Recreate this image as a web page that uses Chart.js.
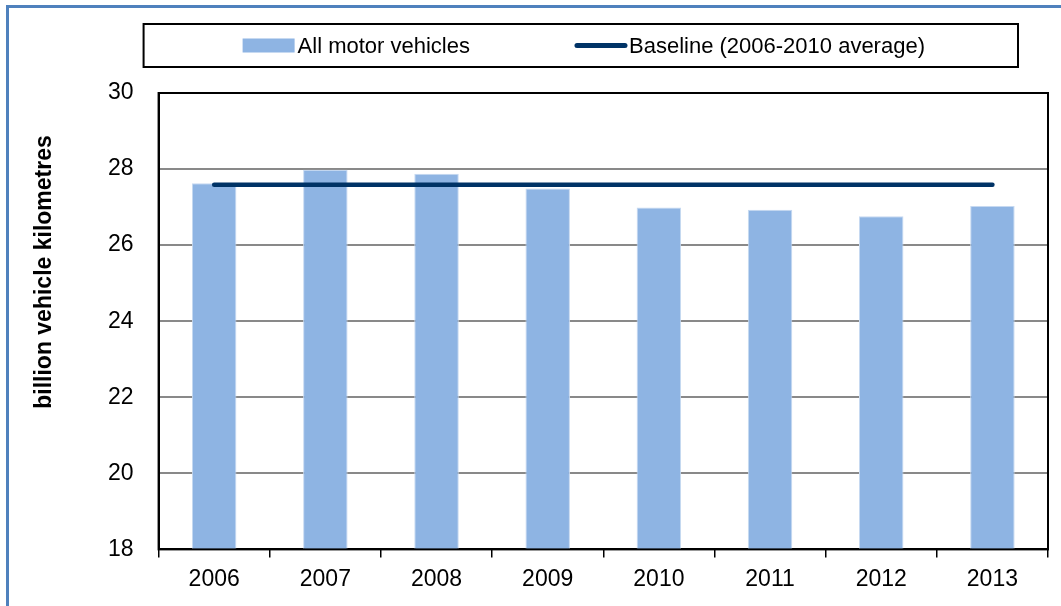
<!DOCTYPE html>
<html>
<head>
<meta charset="utf-8">
<title>Vehicle kilometres</title>
<script src="https://cdn.jsdelivr.net/npm/chart.js@4/dist/chart.umd.min.js"></script>
<style>
  body { margin: 0; background: #fff; }
  #wrap { position: relative; width: 1061px; height: 606px; overflow: hidden; }
  #frame {
    position: absolute; left: 6px; top: 5px; width: 1200px; height: 800px;
    border-left: 3px solid #4f81bd; border-top: 3px solid #4f81bd;
  }
  canvas { position: absolute; left: 0; top: 0; }
</style>
</head>
<body>
<div id="wrap">
  <div id="frame"></div>
  <canvas id="chart" width="1061" height="606"></canvas>
</div>
<script>
const years = ['2006', '2007', '2008', '2009', '2010', '2011', '2012', '2013'];
const vehicleKm = [27.63, 27.98, 27.88, 27.49, 26.99, 26.93, 26.76, 27.03];
const baselineKm = [27.59, 27.59, 27.59, 27.59, 27.59, 27.59, 27.59, 27.59];
const yMin = 18;
const yMax = 30;
const yStep = 2;
const yTitle = 'billion vehicle kilometres';

const FONT = '"Liberation Sans", Arial, sans-serif';
const barColor = '#8eb4e3';
const lineColor = '#003366';

// boxed legend above the plot, black frame round the plot, y title (sits above centre in the original)
const extras = {
  id: 'extras',
  afterDraw(chart) {
    const ctx = chart.ctx;
    const ca = chart.chartArea;
    const x0 = ca.left - 15, x1 = ca.right - 30;
    const y0 = ca.top - 69, y1 = ca.top - 26;

    ctx.save();
    ctx.strokeStyle = '#000';
    ctx.lineWidth = 2;
    ctx.strokeRect(x0, y0, x1 - x0, y1 - y0);
    ctx.strokeRect(ca.left, ca.top, ca.right - ca.left, ca.bottom - ca.top);

    ctx.font = '22px ' + FONT;
    ctx.fillStyle = '#000';
    ctx.textBaseline = 'alphabetic';
    const sw = 54, gap = 1, itemGap = 104;
    const sets = chart.data.datasets;
    const widths = sets.map(d => sw + gap + ctx.measureText(d.label).width);
    const total = widths.reduce((a, b) => a + b, 0) + itemGap * (sets.length - 1);
    let x = (x0 + x1) / 2 + 3 - total / 2;
    const mid = y0 + 21.5;
    sets.forEach((d, i) => {
      if (d.type === 'line') {
        ctx.strokeStyle = d.borderColor;
        ctx.lineWidth = 5;
        ctx.lineCap = 'round';
        ctx.beginPath();
        ctx.moveTo(x + 3, mid);
        ctx.lineTo(x + sw - 3, mid);
        ctx.stroke();
      } else {
        ctx.fillStyle = d.backgroundColor;
        ctx.fillRect(x, mid - 7, sw - 2, 14);
      }
      ctx.fillStyle = '#000';
      ctx.fillText(d.label, x + sw + gap, mid + 7.5);
      x += widths[i] + itemGap;
    });

    ctx.translate(45, ca.top + 179);
    ctx.rotate(-Math.PI / 2);
    ctx.font = 'bold 23px ' + FONT;
    ctx.textAlign = 'center';
    ctx.textBaseline = 'middle';
    ctx.fillText(yTitle, 0, 0);
    ctx.restore();
  }
};

new Chart(document.getElementById('chart'), {
  data: {
    labels: years,
    datasets: [
      {
        type: 'bar',
        label: 'All motor vehicles',
        data: vehicleKm,
        backgroundColor: barColor,
        borderColor: '#c6d9f1',
        borderWidth: 1,
        barPercentage: 0.8,
        categoryPercentage: 0.5,
        order: 2
      },
      {
        type: 'line',
        label: 'Baseline (2006-2010 average)',
        data: baselineKm,
        borderColor: lineColor,
        backgroundColor: lineColor,
        borderWidth: 4.5,
        borderCapStyle: 'round',
        pointRadius: 0,
        order: 1
      }
    ]
  },
  options: {
    responsive: false,
    animation: false,
    layout: { padding: { top: 93, left: 83, right: 13, bottom: 5 } },
    plugins: {
      legend: { display: false },
      tooltip: { enabled: false }
    },
    scales: {
      x: {
        offset: true,
        grid: {
          offset: true,
          drawOnChartArea: false,
          drawTicks: true,
          tickLength: 8,
          color: '#000',
          lineWidth: 1.5
        },
        border: { color: '#000', width: 2 },
        ticks: { color: '#000', padding: 8, font: { family: FONT, size: 23 } }
      },
      y: {
        min: yMin,
        max: yMax,
        ticks: { stepSize: yStep, color: '#000', padding: 25, font: { family: FONT, size: 23 } },
        grid: { color: '#898989', lineWidth: 2, drawTicks: false },
        border: { color: '#000', width: 2 },
        title: { display: false, text: yTitle }
      }
    }
  },
  plugins: [extras]
});
</script>
</body>
</html>
